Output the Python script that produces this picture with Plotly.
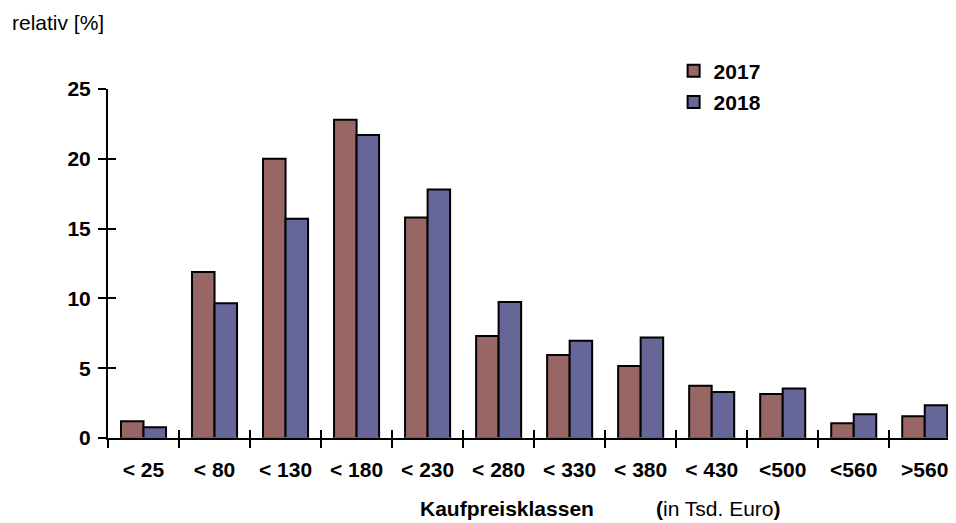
import plotly.graph_objects as go

categories = ["< 25", "< 80", "< 130", "< 180", "< 230", "< 280", "< 330", "< 380", "< 430", "<500", "<560", ">560"]
values_2017 = [1.2, 11.9, 20.0, 22.8, 15.8, 7.3, 5.95, 5.15, 3.75, 3.15, 1.05, 1.55]
values_2018 = [0.77, 9.65, 15.7, 21.7, 17.8, 9.75, 6.97, 7.2, 3.3, 3.55, 1.7, 2.35]
y_ticks = [0, 5, 10, 15, 20, 25]

FONT = "Arial, Liberation Sans, sans-serif"
FS = 21
c2017 = "#996666"
c2018 = "#666699"

fig = go.Figure()
fig.add_trace(go.Bar(x=categories, y=values_2017, name="2017", legendgroup="a",
                     marker=dict(color=c2017, line=dict(color="black", width=2))))
fig.add_trace(go.Bar(x=categories, y=values_2018, name="2018", legendgroup="b",
                     marker=dict(color=c2018, line=dict(color="black", width=2))))
# invisible trace on overlay axes to draw the inner half of the crossing ticks
fig.add_trace(go.Bar(x=categories, y=[0]*len(categories), xaxis="x2", yaxis="y2",
                     showlegend=False, hoverinfo="skip", marker=dict(color="rgba(0,0,0,0)")))

XR = [-0.5, 11.44]

fig.update_layout(
    width=948, height=515,
    margin=dict(l=100, r=0, t=81, b=85),
    plot_bgcolor="white", paper_bgcolor="white",
    font=dict(family=FONT, color="black", size=FS),
    barmode="group", bargap=0.366, bargroupgap=0,
    showlegend=True,
    legend=dict(x=0.667, y=1.11, xanchor="left", yanchor="top",
                font=dict(family=FONT, size=FS, color="black", weight="bold"),
                traceorder="grouped", tracegroupgap=1, bgcolor="rgba(0,0,0,0)"),
    xaxis=dict(type="category", categoryorder="array", categoryarray=categories,
               range=XR, showline=True, linecolor="black", linewidth=2,
               ticks="outside", ticklen=8, tickwidth=2, tickcolor="black",
               tickson="boundaries", showgrid=False, zeroline=False,
               ticklabelstandoff=12,
               tickfont=dict(family=FONT, size=FS, color="black", weight="bold")),
    xaxis2=dict(type="category", categoryorder="array", categoryarray=categories,
                range=XR, overlaying="x", side="bottom", anchor="y",
                ticks="inside", ticklen=8, tickwidth=2, tickcolor="black",
                tickson="boundaries", showticklabels=False, showgrid=False,
                zeroline=False, showline=False),
    yaxis=dict(range=[0, 25], tickvals=y_ticks, showline=True, linecolor="black",
               linewidth=2, ticks="outside", ticklen=8, tickwidth=2, tickcolor="black",
               showgrid=False, zeroline=False, ticklabelstandoff=3,
               tickfont=dict(family=FONT, size=FS, color="black", weight="bold")),
    yaxis2=dict(range=[0, 25], tickvals=y_ticks, overlaying="y", anchor="x", side="left",
                ticks="inside", ticklen=8, tickwidth=2, tickcolor="black",
                showticklabels=False, showgrid=False, zeroline=False, showline=False),
    annotations=[
        dict(text="relativ [%]", xref="paper", yref="paper", x=-0.1156, y=1.229,
             xanchor="left", yanchor="top", showarrow=False,
             font=dict(family=FONT, size=FS, color="black")),
        dict(text="<b>Kaufpreisklassen</b>", xref="paper", yref="paper", x=0.3655, y=-0.2034,
             xanchor="left", yanchor="middle", showarrow=False,
             font=dict(family=FONT, size=FS, color="black")),
        dict(text="<b>(</b>in Tsd. Euro<b>)</b>", xref="paper", yref="paper", x=0.6439, y=-0.2034,
             xanchor="left", yanchor="middle", showarrow=False,
             font=dict(family=FONT, size=FS, color="black")),
    ],
)

fig.write_html("out.html")
